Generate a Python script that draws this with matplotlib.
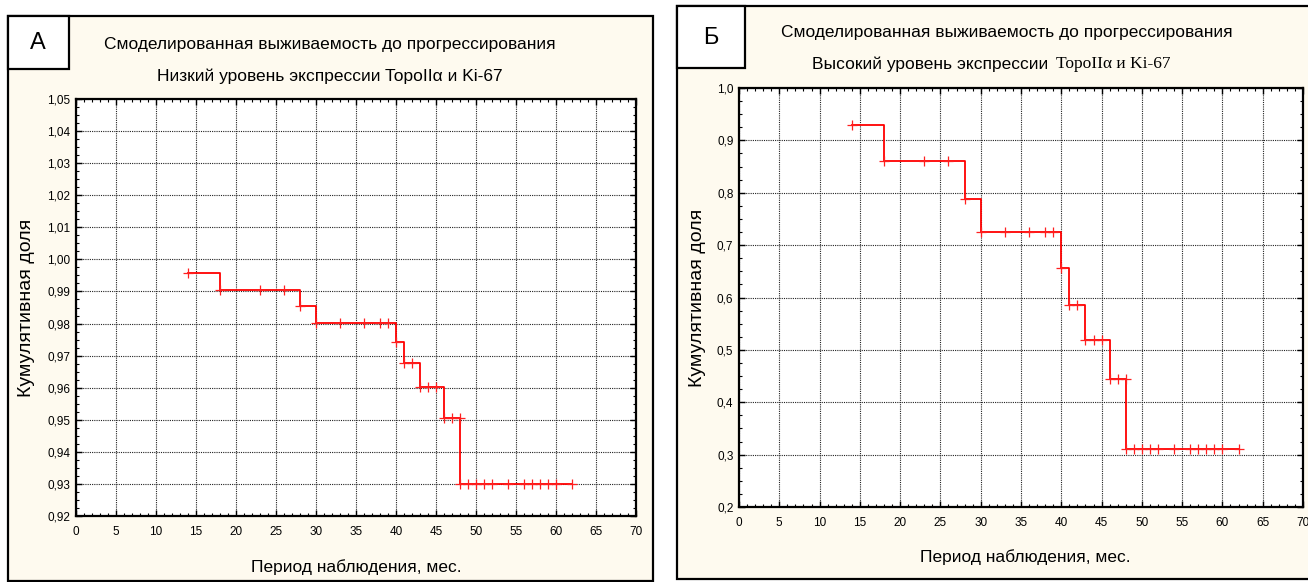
import numpy as np
import matplotlib
matplotlib.use("Agg")
import matplotlib.pyplot as plt
from matplotlib.patches import Rectangle
from matplotlib import font_manager

W, H = 1308, 582

# --- данные ---
# А: низкий уровень экспрессии
step_t_a = [14, 18, 28, 30, 40, 41, 43, 46, 48, 62]
step_s_a = [0.9957, 0.9906, 0.9854, 0.9802, 0.9743, 0.9677, 0.9602, 0.9505, 0.9300, 0.9300]
cens_t_a = [14, 18, 23, 26, 28, 30, 33, 36, 38, 39, 40, 41, 42, 43, 44, 45, 46, 47, 48,
            48, 49, 50, 51, 52, 54, 56, 57, 58, 59, 60, 62]
cens_s_a = [0.9957, 0.9906, 0.9906, 0.9906, 0.9854, 0.9802, 0.9802, 0.9802, 0.9802, 0.9802,
            0.9743, 0.9677, 0.9677, 0.9602, 0.9602, 0.9602, 0.9505, 0.9505, 0.9505,
            0.9300, 0.9300, 0.9300, 0.9300, 0.9300, 0.9300, 0.9300, 0.9300, 0.9300,
            0.9300, 0.9300, 0.9300]

# Б: высокий уровень экспрессии
step_t_b = [14, 18, 28, 30, 40, 41, 43, 46, 48, 62]
step_s_b = [0.930, 0.860, 0.789, 0.725, 0.657, 0.585, 0.519, 0.444, 0.310, 0.310]
cens_t_b = cens_t_a
cens_s_b = [0.930, 0.860, 0.860, 0.860, 0.789, 0.725, 0.725, 0.725, 0.725, 0.725,
            0.657, 0.585, 0.585, 0.519, 0.519, 0.519, 0.444, 0.444, 0.444,
            0.310, 0.310, 0.310, 0.310, 0.310, 0.310, 0.310, 0.310, 0.310,
            0.310, 0.310, 0.310]

x_ticks = np.arange(0, 71, 5)
y_ticks_a = np.round(np.arange(0.92, 1.0501, 0.01), 2)
y_ticks_b = np.round(np.arange(0.2, 1.001, 0.1), 1)

title1 = "Смоделированная выживаемость до прогрессирования"
title2_a = "Низкий уровень экспрессии TopoIIα и Ki-67"
title2_b_sans = "Высокий уровень экспрессии "
title2_b_serif = "TopoIIα и Ki-67"
xlabel = "Период наблюдения, мес."
ylabel = "Кумулятивная доля"

names = {f.name for f in font_manager.fontManager.ttflist}
NARROW = "Liberation Sans Narrow" if "Liberation Sans Narrow" in names else "Liberation Sans"
SANS = "Liberation Sans"
SERIF = "Liberation Serif"
CREAM = "#fefaef"


def fx(x):
    return x / W


def fy(y):
    return 1 - y / H


def rect(fig, x0, y0, x1, y1, fc, lw=1.6, z=-5):
    fig.patches.append(Rectangle((fx(x0), fy(y1)), fx(x1) - fx(x0), fy(y0) - fy(y1),
                                 transform=fig.transFigure, facecolor=fc,
                                 edgecolor="black", linewidth=lw, zorder=z))


def setup_axes(ax, yticks, ylim, yminor, fmt):
    ax.set_xlim(0, 70)
    ax.set_ylim(*ylim)
    ax.set_xticks(x_ticks)
    ax.set_xticks(np.arange(0, 71, 1), minor=True)
    ax.set_yticks(yticks)
    ax.set_yticks(np.arange(ylim[0], ylim[1] + yminor / 2, yminor), minor=True)
    ax.set_xticklabels([str(v) for v in x_ticks], family=NARROW, fontsize=8.5)
    ax.set_yticklabels([fmt.format(v).replace(".", ",") for v in yticks], family=NARROW, fontsize=8.5)
    ax.tick_params(which="both", direction="in", top=True, right=True, color="black")
    ax.tick_params(which="major", length=4, width=1.0)
    ax.tick_params(which="minor", length=2, width=0.8)
    ax.tick_params(axis="x", which="major", pad=7)
    ax.tick_params(axis="y", which="major", pad=4)
    ax.grid(True, which="major", color="#222222", linestyle=(0, (1, 1)), linewidth=0.8)
    for s in ax.spines.values():
        s.set_linewidth(1.6)
        s.set_color("black")
    ax.set_facecolor("white")


def draw_curve(ax, st, ss, ct, cs):
    ax.step(st, ss, where="post", color="#ff0000", linewidth=1.3, zorder=3)
    ax.plot(ct, cs, linestyle="none", marker="+", markersize=7, markeredgewidth=0.9,
            color="#ff2020", zorder=4)


fig = plt.figure(figsize=(W / 100, H / 100), dpi=100)
fig.patch.set_facecolor("white")

# панель А
rect(fig, 7.5, 16, 653, 581, CREAM)
rect(fig, 7.5, 16, 69, 69, "white", z=-4)
fig.text(fx(38), fy(43), "А", family=SANS, fontsize=17, ha="center", va="center")
fig.text(fx(330), fy(45), title1, family=NARROW, fontsize=12.5, ha="center", va="center")
fig.text(fx(330), fy(76), title2_a, family=NARROW, fontsize=12.5, ha="center", va="center")

ax_a = fig.add_axes([fx(76), fy(516), fx(636) - fx(76), fy(99) - fy(516)])
setup_axes(ax_a, y_ticks_a, (0.92, 1.05), 0.0025, "{:.2f}")
draw_curve(ax_a, step_t_a, step_s_a, cens_t_a, cens_s_a)
fig.text(fx(356), fy(567), xlabel, family=NARROW, fontsize=12.5, ha="center", va="center")
fig.text(fx(27), fy(308), ylabel, family=SANS, fontsize=14, rotation=90, ha="center", va="center")

# панель Б
rect(fig, 677, 6, 1320, 579, CREAM)
rect(fig, 677, 6, 745, 68, "white", z=-4)
fig.text(fx(711), fy(38), "Б", family=SANS, fontsize=17, ha="center", va="center")
fig.text(fx(1007), fy(33), title1, family=NARROW, fontsize=12.5, ha="center", va="center")
fig.text(fx(1053), fy(64), title2_b_sans, family=NARROW, fontsize=12.5, ha="right", va="center")
fig.text(fx(1056), fy(64), title2_b_serif, family=SERIF, fontsize=12.5, ha="left", va="center")

ax_b = fig.add_axes([fx(739), fy(507), fx(1303) - fx(739), fy(88) - fy(507)])
setup_axes(ax_b, y_ticks_b, (0.2, 1.0), 0.025, "{:.1f}")
draw_curve(ax_b, step_t_b, step_s_b, cens_t_b, cens_s_b)
fig.text(fx(1025), fy(557), xlabel, family=NARROW, fontsize=12.5, ha="center", va="center")
fig.text(fx(697), fy(298), ylabel, family=SANS, fontsize=14, rotation=90, ha="center", va="center")

fig.savefig("out.png", dpi=100, facecolor=fig.get_facecolor())
